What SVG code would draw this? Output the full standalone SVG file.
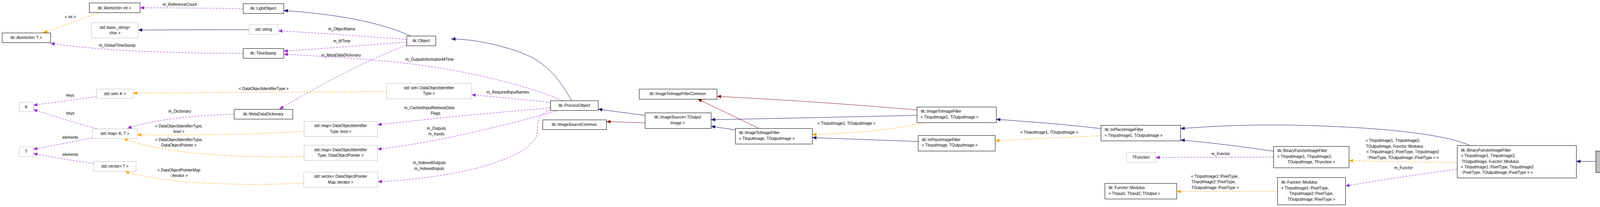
<svg xmlns="http://www.w3.org/2000/svg" width="4299" height="531" viewBox="0 0 4299 531">
<style>
text{font-family:"Liberation Sans",Arial,sans-serif;font-size:10px;fill:#000}
.c{text-anchor:middle}
.n rect{fill:#fff;stroke:#000;stroke-width:1}
.g rect{fill:#fff;stroke:#bfbfbf;stroke-width:1}
.e path{fill:none;stroke-width:1}
.b{stroke:#191970}
.r{stroke:#8b1a1a}
.p{stroke:#9a32cd;stroke-dasharray:5,3}
.o{stroke:#ffa500;stroke-dasharray:5,3}
</style>
<defs>
<marker id="mb" markerUnits="userSpaceOnUse" markerWidth="12" markerHeight="10" refX="11" refY="4.5" orient="auto"><path d="M0,0L11,4.5L0,9z" fill="#191970"/></marker>
<marker id="mr" markerUnits="userSpaceOnUse" markerWidth="12" markerHeight="10" refX="11" refY="4.5" orient="auto"><path d="M0,0L11,4.5L0,9z" fill="#8b1a1a"/></marker>
<marker id="mp" markerUnits="userSpaceOnUse" markerWidth="12" markerHeight="10" refX="11" refY="4.5" orient="auto"><path d="M0,0L11,4.5L0,9z" fill="#9a32cd"/></marker>
<marker id="mo" markerUnits="userSpaceOnUse" markerWidth="12" markerHeight="10" refX="11" refY="4.5" orient="auto"><path d="M0,0L11,4.5L0,9z" fill="#ffa500"/></marker>
</defs>
<rect width="4299" height="531" fill="#fff"/>
<g id="edges" class="e">
<path class="o" marker-end="url(#mo)" d="M252,33C210,48 160,68 110,84"/>
<path class="p" marker-end="url(#mp)" d="M622,22C530,21 440,20 358,20"/>
<path class="b" marker-end="url(#mb)" d="M1050,92C960,50 820,33 726,27"/>
<path class="b" marker-end="url(#mb)" d="M637,76L353,77"/>
<path class="p" marker-end="url(#mp)" d="M1041,101C930,93 800,84 712,79"/>
<path class="p" marker-end="url(#mp)" d="M1041,108C930,116 800,127 726,131"/>
<path class="p" marker-end="url(#mp)" d="M622,137C450,137 250,130 129,111"/>
<path class="p" marker-end="url(#mp)" d="M1440,258C1350,220 1200,180 1020,160C900,148 800,143 726,139"/>
<path class="p" marker-end="url(#mp)" d="M1041,116C950,150 850,200 715,280"/>
<path class="b" marker-end="url(#mb)" d="M1463,258C1420,180 1380,150 1320,130C1260,110 1200,100 1155,100"/>
<path class="p" marker-end="url(#mp)" d="M599,293C500,296 400,305 326,329"/>
<path class="p" marker-end="url(#mp)" d="M247,248L85,270"/>
<path class="p" marker-end="url(#mp)" d="M248,330C190,315 130,295 85,281"/>
<path class="p" marker-end="url(#mp)" d="M236,354L85,383"/>
<path class="p" marker-end="url(#mp)" d="M239,419C180,412 130,402 85,394"/>
<path class="o" marker-end="url(#mo)" d="M989,235L340,239"/>
<path class="o" marker-end="url(#mo)" d="M778,337C650,345 500,347 351,346"/>
<path class="o" marker-end="url(#mo)" d="M778,402C600,405 420,395 316,355"/>
<path class="o" marker-end="url(#mo)" d="M777,470C600,478 420,470 320,440"/>
<path class="p" marker-end="url(#mp)" d="M1409,263C1340,255 1270,249 1207,243"/>
<path class="p" marker-end="url(#mp)" d="M1409,277C1250,290 1100,305 966,320"/>
<path class="p" marker-end="url(#mp)" d="M1430,283C1300,320 1120,365 966,383"/>
<path class="p" marker-end="url(#mp)" d="M1409,283C1370,295 1378,320 1375,345C1360,400 1200,455 967,466"/>
<path class="b" marker-end="url(#mb)" d="M1651,296L1531,280"/>
<path class="r" marker-end="url(#mr)" d="M1651,315L1552,312"/>
<path class="b" marker-end="url(#mb)" d="M1882,333L1820,324"/>
<path class="r" marker-end="url(#mr)" d="M1942,329L1786,254"/>
<path class="r" marker-end="url(#mr)" d="M2347,282C2150,265 2000,256 1835,247"/>
<path class="b" marker-end="url(#mb)" d="M2347,296C2150,300 2000,304 1820,307"/>
<path class="o" marker-end="url(#mo)" d="M2370,314C2280,335 2180,342 2079,345"/>
<path class="b" marker-end="url(#mb)" d="M2350,363L2079,353"/>
<path class="b" marker-end="url(#mb)" d="M2818,330C2720,318 2630,312 2550,306"/>
<path class="o" marker-end="url(#mo)" d="M2818,348C2720,353 2620,357 2547,361"/>
<path class="b" marker-end="url(#mb)" d="M3260,388C3180,376 3100,366 3022,359"/>
<path class="p" marker-end="url(#mp)" d="M3260,403L2958,404"/>
<path class="o" marker-end="url(#mo)" d="M3270,491L3012,491"/>
<path class="o" marker-end="url(#mo)" d="M3730,417C3640,416 3540,414 3453,412"/>
<path class="p" marker-end="url(#mp)" d="M3730,434C3630,447 3530,463 3444,477"/>
<path class="b" marker-end="url(#mb)" d="M3762,373C3700,345 3550,328 3350,322C3220,318 3110,323 3022,330"/>
<path class="b" marker-end="url(#mb)" d="M4085,414L4035,414"/>
</g>
<g id="edge-labels">
<text class="c" x="180" y="47">&lt; int &gt;</text>
<text class="c" x="460" y="15">m_ReferenceCount</text>
<text class="c" x="875" y="78">m_ObjectName</text>
<text class="c" x="875" y="109">m_MTime</text>
<text class="c" x="300" y="120">m_GlobalTimeStamp</text>
<text class="c" x="1100" y="156">m_OutputInformationMTime</text>
<text class="c" x="873" y="145">m_MetaDataDictionary</text>
<text class="c" x="460" y="289">m_Dictionary</text>
<text class="c" x="180" y="248">keys</text>
<text class="c" x="180" y="294">keys</text>
<text class="c" x="180" y="356">elements</text>
<text class="c" x="180" y="400">elements</text>
<text class="c" x="675" y="231">&lt; DataObjectIdentifierType &gt;</text>
<text class="c" x="458" y="327">&lt; DataObjectIdentifierType,</text>
<text class="c" x="458" y="341">bool &gt;</text>
<text class="c" x="458" y="362">&lt; DataObjectIdentifierType,</text>
<text class="c" x="458" y="376">DataObjectPointer &gt;</text>
<text class="c" x="458" y="440">&lt; DataObjectPointerMap</text>
<text class="c" x="458" y="454">::iterator &gt;</text>
<text class="c" x="1300" y="240">m_RequiredInputNames</text>
<text class="c" x="1099" y="280">m_CachedInputReleaseData</text>
<text class="c" x="1115" y="294">Flags</text>
<text class="c" x="1117" y="333">m_Outputs</text>
<text class="c" x="1117" y="347">m_Inputs</text>
<text class="c" x="1099" y="421">m_IndexedOutputs</text>
<text class="c" x="1099" y="436">m_IndexedInputs</text>
<text class="c" x="2167" y="320">&lt; TInputImage1, TOutputImage &gt;</text>
<text class="c" x="2686" y="343">&lt; TInputImage1, TOutputImage &gt;</text>
<text class="c" x="3125" y="398">m_Functor</text>
<text x="3049" y="456">&lt; TInputImage1::PixelType,</text>
<text x="3050" y="470">TInputImage2::PixelType,</text>
<text x="3050" y="485">TOutputImage::PixelType &gt;</text>
<text class="c" x="3566" y="364">&lt; TInputImage1, TInputImage2,</text>
<text class="c" x="3570" y="379">TOutputImage, Functor::Modulus</text>
<text class="c" x="3591" y="393">&lt; TInputImage1::PixelType, TInputImage2</text>
<text class="c" x="3591" y="408">::PixelType, TOutputImage::PixelType &gt; &gt;</text>
<text class="c" x="3593" y="434">m_Functor</text>
</g>
<g id="AtomicIntInt" class="n"><rect x="228.5" y="7.5" width="130" height="25"/><text class="c" x="293" y="24">itk::AtomicInt&lt; int &gt;</text></g>
<g id="BasicString" class="g"><rect x="234.5" y="58.5" width="119" height="39"/><text class="c" x="294" y="74">std::basic_string&lt;</text><text class="c" x="294" y="88">char &gt;</text></g>
<g id="AtomicIntT" class="n"><rect x="5.5" y="84.5" width="124" height="25"/><text class="c" x="67" y="100">itk::AtomicInt&lt; T &gt;</text></g>
<g id="SetK" class="g"><rect x="247.5" y="228.5" width="93" height="24"/><text class="c" x="294" y="244">std::set&lt; K &gt;</text></g>
<g id="K" class="g"><rect x="49.5" y="262.5" width="36" height="24"/><text class="c" x="67" y="278">K</text></g>
<g id="MapKT" class="g"><rect x="236.5" y="330.5" width="115" height="25"/><text class="c" x="294" y="346">std::map&lt; K, T &gt;</text></g>
<g id="T" class="g"><rect x="49.5" y="376.5" width="36" height="25"/><text class="c" x="67" y="392">T</text></g>
<g id="VectorT" class="g"><rect x="239.5" y="414.5" width="109" height="25"/><text class="c" x="294" y="430">std::vector&lt; T &gt;</text></g>
<g id="LightObject" class="n"><rect x="622.5" y="9.5" width="104" height="25"/><text class="c" x="674" y="25">itk::LightObject</text></g>
<g id="StdString" class="g"><rect x="637.5" y="63.5" width="75" height="25"/><text class="c" x="675" y="79">std::string</text></g>
<g id="TimeStamp" class="n"><rect x="622.5" y="124.5" width="104" height="25"/><text class="c" x="674" y="140">itk::TimeStamp</text></g>
<g id="MetaDataDictionary" class="n"><rect x="599.5" y="280.5" width="150" height="25"/><text class="c" x="674" y="296">itk::MetaDataDictionary</text></g>
<g id="SetDOIT" class="g"><rect x="989.5" y="214.5" width="218" height="39"/><text class="c" x="1098" y="229">std::set&lt; DataObjectIdentifier</text><text class="c" x="1098" y="243">Type &gt;</text></g>
<g id="MapDOITBool" class="g"><rect x="778.5" y="311.5" width="188" height="39"/><text class="c" x="872" y="326">std::map&lt; DataObjectIdentifier</text><text class="c" x="872" y="341">Type, bool &gt;</text></g>
<g id="MapDOITDOP" class="g"><rect x="778.5" y="372.5" width="188" height="39"/><text class="c" x="872" y="388">std::map&lt; DataObjectIdentifier</text><text class="c" x="872" y="402">Type, DataObjectPointer &gt;</text></g>
<g id="VectorIter" class="g"><rect x="777.5" y="441.5" width="190" height="39"/><text class="c" x="872" y="456">std::vector&lt; DataObjectPointer</text><text class="c" x="872" y="471">Map::iterator &gt;</text></g>
<g id="Object" class="n"><rect x="1041.5" y="92.5" width="74" height="25"/><text class="c" x="1078" y="108">itk::Object</text></g>
<g id="ProcessObject" class="n"><rect x="1409.5" y="258.5" width="122" height="25"/><text class="c" x="1470" y="274">itk::ProcessObject</text></g>
<g id="ImageSourceCommon" class="n"><rect x="1389.5" y="307.5" width="163" height="25"/><text class="c" x="1470" y="323">itk::ImageSourceCommon</text></g>
<g id="ImageToImageFilterCommon" class="n"><rect x="1636.5" y="228.5" width="199" height="26"/><text class="c" x="1735" y="244">itk::ImageToImageFilterCommon</text></g>
<g id="ImageSource" class="n"><rect x="1651.5" y="289.5" width="169" height="40"/><text class="c" x="1735" y="304">itk::ImageSource&lt; TOutput</text><text class="c" x="1735" y="319">Image &gt;</text></g>
<g id="ImageToImageFilterA" class="n"><rect x="1882.5" y="329.5" width="197" height="40"/><text x="1892" y="344">itk::ImageToImageFilter</text><text x="1892" y="359">&lt; TInputImage, TOutputImage &gt;</text></g>
<g id="ImageToImageFilterB" class="n"><rect x="2347.5" y="274.5" width="203" height="40"/><text x="2357" y="289">itk::ImageToImageFilter</text><text x="2357" y="304">&lt; TInputImage1, TOutputImage &gt;</text></g>
<g id="InPlaceA" class="n"><rect x="2350.5" y="347.5" width="197" height="40"/><text x="2360" y="362">itk::InPlaceImageFilter</text><text x="2360" y="376">&lt; TInputImage, TOutputImage &gt;</text></g>
<g id="InPlaceB" class="n"><rect x="2818.5" y="321.5" width="204" height="40"/><text x="2828" y="336">itk::InPlaceImageFilter</text><text x="2828" y="351">&lt; TInputImage1, TOutputImage &gt;</text></g>
<g id="TFunction" class="g"><rect x="2883.5" y="391.5" width="75" height="25"/><text class="c" x="2921" y="407">TFunction</text></g>
<g id="FunctorModulusA" class="n"><rect x="2828.5" y="470.5" width="184" height="40"/><text x="2838" y="485">itk::Functor::Modulus</text><text x="2838" y="500">&lt; TInput1, TInput2, TOutput &gt;</text></g>
<g id="BinaryFunctorA" class="n"><rect x="3260.5" y="375.5" width="193" height="55"/><text x="3270" y="390">itk::BinaryFunctorImageFilter</text><text x="3270" y="405">&lt; TInputImage1, TInputImage2,</text><text class="c" x="3357" y="419">TOutputImage, TFunction &gt;</text></g>
<g id="FunctorModulusB" class="n"><rect x="3270.5" y="455.5" width="174" height="70"/><text x="3280" y="471">itk::Functor::Modulus</text><text x="3280" y="486">&lt; TInputImage1::PixelType,</text><text class="c" x="3357" y="500">TInputImage2::PixelType,</text><text class="c" x="3357" y="515">TOutputImage::PixelType &gt;</text></g>
<g id="BinaryFunctorB" class="n"><rect x="3730.5" y="373.5" width="305" height="83"/><text x="3740" y="389">itk::BinaryFunctorImageFilter</text><text x="3740" y="403">&lt; TInputImage1, TInputImage2,</text><text x="3742" y="418">TOutputImage, Functor::Modulus</text><text x="3740" y="432">&lt; TInputImage1::PixelType, TInputImage2</text><text x="3740" y="446">::PixelType, TOutputImage::PixelType &gt; &gt;</text></g>
<g id="ModulusImageFilter" class="n"><rect x="4085.5" y="387.5" width="208" height="55" fill="#bfbfbf" style="fill:#bfbfbf"/><text x="4096" y="402">itk::ModulusImageFilter</text><text x="4096" y="417">&lt; TInputImage1, TInputImage2,</text><text class="c" x="4189" y="431">TOutputImage &gt;</text></g>
</svg>
